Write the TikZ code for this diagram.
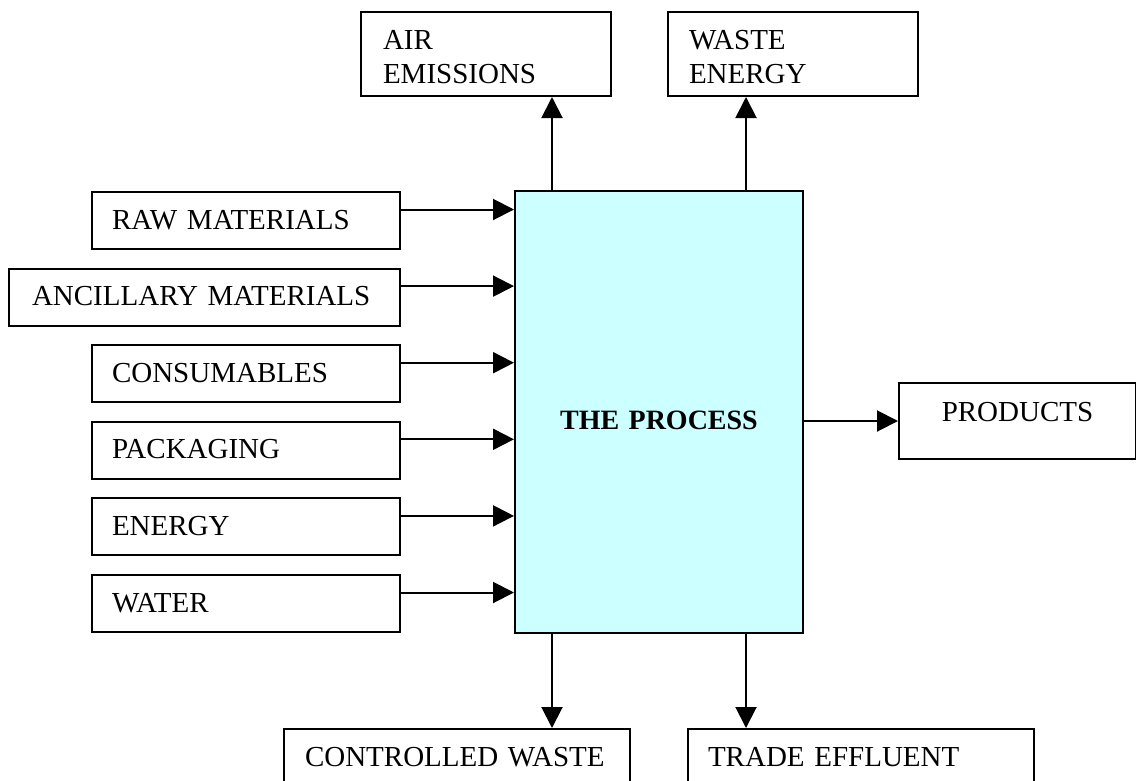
\documentclass[tikz,border=0pt]{standalone}
\usepackage{fontspec}
\setmainfont{Liberation Serif}
\usetikzlibrary{arrows.meta,calc}
\definecolor{proccyan}{RGB}{204,255,255}
\begin{document}
\begin{tikzpicture}[x=1pt,y=-1pt,
  every node/.style={font=\fontsize{29}{34}\selectfont},
  box/.style={draw, line width=2pt, anchor=north west, inner xsep=20pt, inner ysep=0pt, align=left, text height=37pt},
  sidebox/.style={box, text depth=20pt},
  arr/.style={line width=2pt, -{Triangle[length=21pt,width=21pt]}}
]
\useasboundingbox (0,0) rectangle (1136,780);
\fill[white] (0,0) rectangle (1136,780);
\clip (0,0) rectangle (1136,780);

% process
\node[draw, line width=2pt, fill=proccyan, anchor=north west, inner sep=0pt,
      text width=288pt, align=center, text height=238pt, text depth=204pt,
      font=\bfseries\fontsize{28}{34}\selectfont] (proc) at (514,190) {THE PROCESS};

% inputs
\node[sidebox, text width=268pt] (raw) at (91,191) {RAW MATERIALS};
\node[sidebox, inner xsep=23pt, text width=345pt] (anc) at (8,267.6) {ANCILLARY MATERIALS};
\node[sidebox, text width=268pt] (cons) at (91,344.2) {CONSUMABLES};
\node[sidebox, text width=268pt] (pack) at (91,420.8) {PACKAGING};
\node[sidebox, text width=268pt] (energy) at (91,497.4) {ENERGY};
\node[sidebox, text width=268pt] (water) at (91,574) {WATER};

% outputs
\node[box, inner xsep=22pt, text depth=47pt, text width=206pt] (air) at (360,11) {AIR\\EMISSIONS};
\node[box, inner xsep=21pt, text depth=47pt, text width=208pt] (waste) at (667,11) {WASTE\\ENERGY};
\node[box, align=center, inner xsep=0pt, text width=237pt, text height=38pt, text depth=38pt] (prod) at (898,382) {PRODUCTS};
\node[box, inner xsep=21pt, text depth=70pt, text width=304pt] (ctrl) at (283,728) {CONTROLLED WASTE};
\node[box, inner xsep=20pt, text depth=70pt, text width=306pt] (trade) at (687,728) {TRADE EFFLUENT};

% input arrows
\foreach \n in {raw,anc,cons,pack,energy,water}{
  \path (\n.north east) ++(0,18.5) coordinate (\n-o);
  \draw[arr] (\n-o) -- (\n-o -| proc.west);
}

% top / bottom arrows
\coordinate (pa) at ($(proc.north west)+(38,0)$);
\coordinate (pb) at ($(proc.north east)+(-58,0)$);
\coordinate (qa) at ($(proc.south west)+(38,0)$);
\coordinate (qb) at ($(proc.south east)+(-58,0)$);
\draw[arr] (pa) -- (pa |- air.south);
\draw[arr] (pb) -- (pb |- waste.south);
\draw[arr] (qa) -- (qa |- ctrl.north);
\draw[arr] (qb) -- (qb |- trade.north);

% products arrow
\draw[arr] (prod.west -| proc.east) -- (prod.west);
\end{tikzpicture}
\end{document}
